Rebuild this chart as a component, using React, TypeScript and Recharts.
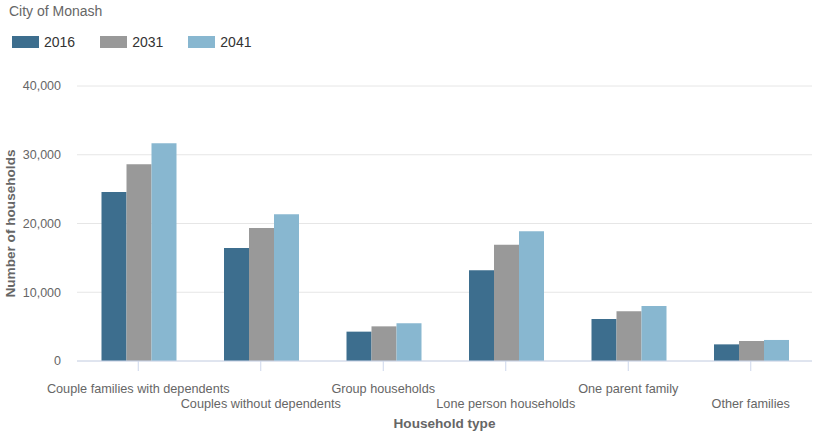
import { Bar, BarChart, CartesianGrid, Label, XAxis, YAxis } from "recharts";

const CATEGORIES = [
  "Couple families with dependents",
  "Couples without dependents",
  "Group households",
  "Lone person households",
  "One parent family",
  "Other families",
];

const VALUES_2016 = [24580, 16440, 4270, 13190, 6110, 2420];
const VALUES_2031 = [28610, 19350, 5040, 16920, 7220, 2910];
const VALUES_2041 = [31670, 21340, 5480, 18860, 8000, 3060];

const Y_TICKS = [0, 10000, 20000, 30000, 40000];

const SERIES = [
  { key: "y2016", name: "2016", color: "#3d6e8e" },
  { key: "y2031", name: "2031", color: "#999999" },
  { key: "y2041", name: "2041", color: "#88b7d0" },
];

const data = CATEGORIES.map((label, i) => ({
  label,
  y2016: VALUES_2016[i],
  y2031: VALUES_2031[i],
  y2041: VALUES_2041[i],
}));

const FONT = '"Liberation Sans", Helvetica, Arial, sans-serif';
const numberFormatter = new Intl.NumberFormat("en-US", { maximumFractionDigits: 0 });

function StaggeredTick(props: any) {
  const { x, y, payload, index } = props;
  const dy = index % 2 === 0 ? 20 : 35;
  return (
    <text x={x} y={y + dy} textAnchor="middle" fill="#666666" fontSize={12.7} fontFamily={FONT}>
      {payload.value}
    </text>
  );
}

function YTitle(props: any) {
  const vb = props.viewBox || { x: 0, y: 0, height: 0 };
  const cx = vb.x + 10;
  const cy = vb.y + vb.height / 2;
  return (
    <text
      x={cx}
      y={cy}
      transform={`rotate(-90, ${cx}, ${cy})`}
      textAnchor="middle"
      dominantBaseline="central"
      fill="#666666"
      fontSize={13.6}
      fontWeight="bold"
      fontFamily={FONT}
    >
      Number of households
    </text>
  );
}

function XTitle(props: any) {
  const vb = props.viewBox || { x: 0, y: 0, width: 0 };
  const cx = vb.x + vb.width / 2;
  return (
    <text
      x={cx}
      y={vb.y + 62}
      textAnchor="middle"
      dominantBaseline="central"
      fill="#666666"
      fontSize={13.6}
      fontWeight="bold"
      fontFamily={FONT}
    >
      Household type
    </text>
  );
}

export default function App() {
  return (
    <div
      style={{
        position: "absolute",
        left: 0,
        top: 0,
        width: 814,
        height: 433,
        background: "#ffffff",
        fontFamily: FONT,
      }}
    >
      <div style={{ position: "absolute", left: 9, top: 3, fontSize: 14, color: "#666666" }}>
        City of Monash
      </div>
      <div style={{ position: "absolute", left: 12, top: 34, display: "flex", alignItems: "center" }}>
        {SERIES.map((s) => (
          <div key={s.key} style={{ display: "flex", alignItems: "center", marginRight: 25 }}>
            <div style={{ width: 27, height: 12, background: s.color, marginRight: 5 }} />
            <span style={{ fontSize: 14, color: "#333333" }}>{s.name}</span>
          </div>
        ))}
      </div>
      <BarChart
        width={814}
        height={433}
        data={data}
        margin={{ top: 86, right: 2, bottom: 0, left: 0 }}
        barCategoryGap="20%"
        barGap={0}
      >
        <CartesianGrid vertical={false} stroke="#e6e6e6" />
        <XAxis
          dataKey="label"
          height={72}
          interval={0}
          axisLine={{ stroke: "#ccd6eb" }}
          tickLine={{ stroke: "#ccd6eb" }}
          tickSize={10}
          tick={<StaggeredTick />}
        >
          <Label content={<XTitle />} />
        </XAxis>
        <YAxis
          width={77}
          domain={[0, 40000]}
          ticks={Y_TICKS}
          axisLine={false}
          tickLine={false}
          tickSize={0}
          tickMargin={16}
          tickFormatter={(v) => numberFormatter.format(v)}
          tick={{ fontSize: 12.5, fill: "#666666", fontFamily: FONT }}
        >
          <Label content={<YTitle />} />
        </YAxis>
        {SERIES.map((s) => (
          <Bar key={s.key} dataKey={s.key} name={s.name} fill={s.color} isAnimationActive={false} />
        ))}
      </BarChart>
    </div>
  );
}
